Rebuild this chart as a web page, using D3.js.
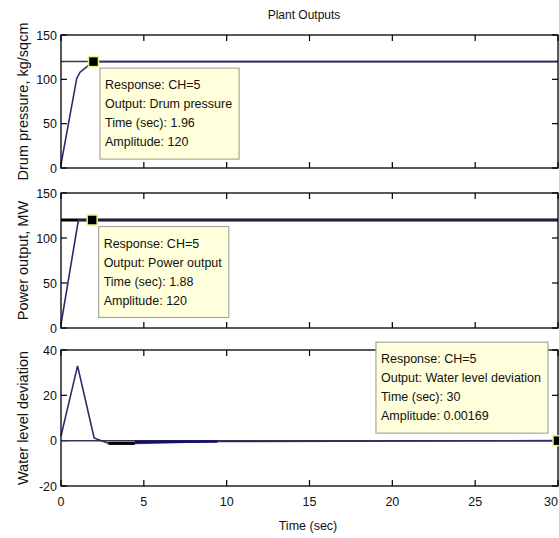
<!DOCTYPE html>
<html><head><meta charset="utf-8">
<script src="https://cdn.jsdelivr.net/npm/d3@7"></script>
<style>
html,body{margin:0;padding:0;background:#fff;}
svg{display:block;font-family:"Liberation Sans",Arial,sans-serif;}
</style></head>
<body>
<svg id="c" width="559" height="538"></svg>
<script>
// ---- data ----
const title = "Plant Outputs";
const xLabel = "Time (sec)";
const timeTicks = [0, 5, 10, 15, 20, 25, 30];
const yLabels = ["Drum pressure, kg/sqcm", "Power output, MW", "Water level deviation"];
const yDomains = [[0, 150], [0, 150], [-20, 40]];
const yTicks = [[0, 50, 100, 150], [0, 50, 100, 150], [-20, 0, 20, 40]];
const finalValues = [120, 120, 0];

const drumTime = [0, 0.95, 1.15, 1.55, 1.96, 30];
const drumValue = [4, 101, 108, 114, 120, 120];
const powerTime = [0, 1.05, 1.88, 30];
const powerValue = [4, 120, 120, 120];
const waterTime = [0, 1.0, 2.0, 2.2, 2.86, 4.45, 9.45, 30];
const waterValue = [2, 33, 1.2, 0.6, -1.1, -1.2, -0.4, 0.00169];
const waterDarkSegTime = [2.86, 4.45];
const waterDarkSegValue = [-1.2, -1.2];
const waterBlueSegTime = [4.45, 9.45];
const waterBlueSegValue = [-0.5, -0.4];

const tipTime = [1.96, 1.88, 30];
const tipAmp = [120, 120, 0.00169];
const tipOutput = ["Drum pressure", "Power output", "Water level deviation"];
const tipAmpText = ["120", "120", "0.00169"];
const tipResponse = "Response: CH=5";

// ---- layout ----
const svg = d3.select("#c");
const x0 = 61, x1 = 558;
const panels = [[35, 168], [193, 328], [350, 486]];
const x = d3.scaleLinear().domain([0, 30]).range([x0, x1]);
const lineCol = "#2e2a6a";

svg.append("text").attr("x", 304).attr("y", 19).attr("text-anchor", "middle")
  .attr("font-size", 12).attr("fill", "#111").text(title);

const series = [
  drumTime.map((t, i) => [t, drumValue[i]]),
  powerTime.map((t, i) => [t, powerValue[i]]),
  waterTime.map((t, i) => [t, waterValue[i]])
];

panels.forEach((p, k) => {
  const y = d3.scaleLinear().domain(yDomains[k]).range([p[1], p[0]]);
  const g = svg.append("g");
  g.append("rect").attr("x", x0).attr("y", p[0]).attr("width", x1 - x0).attr("height", p[1] - p[0])
    .attr("fill", "#fff").attr("stroke", "none");
  const tl = 6;
  timeTicks.forEach(t => {
    g.append("line").attr("x1", x(t)).attr("x2", x(t)).attr("y1", p[1]).attr("y2", p[1] - tl).attr("stroke", "#000").attr("stroke-width", 1.2);
    g.append("line").attr("x1", x(t)).attr("x2", x(t)).attr("y1", p[0]).attr("y2", p[0] + tl).attr("stroke", "#000").attr("stroke-width", 1.2);
  });
  yTicks[k].forEach(v => {
    g.append("line").attr("x1", x0).attr("x2", x0 + tl).attr("y1", y(v)).attr("y2", y(v)).attr("stroke", "#000").attr("stroke-width", 1.2);
    g.append("line").attr("x1", x1).attr("x2", x1 - tl).attr("y1", y(v)).attr("y2", y(v)).attr("stroke", "#000").attr("stroke-width", 1.2);
    g.append("text").attr("x", x0 - 4).attr("y", y(v) + 4.5).attr("text-anchor", "end")
      .attr("font-size", 12.5).attr("fill", "#111").text(v);
  });
  g.append("text").attr("transform", `translate(28,${(p[0] + p[1]) / 2}) rotate(-90)`)
    .attr("text-anchor", "middle").attr("font-size", 14.5).attr("fill", "#111").text(yLabels[k]);

  g.append("line").attr("x1", x0).attr("x2", x1).attr("y1", y(finalValues[k])).attr("y2", y(finalValues[k]))
    .attr("stroke", k === 1 ? "#000" : "#3a3650").attr("stroke-width", k === 1 ? 3 : 1.5);

  const ln = d3.line().x(d => x(d[0])).y(d => y(d[1]));
  g.append("path").attr("d", ln(series[k])).attr("fill", "none").attr("stroke", lineCol).attr("stroke-width", 1.6);
  if (k === 2) {
    g.append("path").attr("d", ln(waterDarkSegTime.map((t, i) => [t, waterDarkSegValue[i]])))
      .attr("fill", "none").attr("stroke", "#000").attr("stroke-width", 3);
    g.append("path").attr("d", ln(waterBlueSegTime.map((t, i) => [t, waterBlueSegValue[i]])))
      .attr("fill", "none").attr("stroke", "#101070").attr("stroke-width", 2.6);
  }

  g.append("rect").attr("x", x0).attr("y", p[0]).attr("width", x1 - x0).attr("height", p[1] - p[0])
    .attr("fill", "none").attr("stroke", "#000").attr("stroke-width", 1.3);

  const mx = x(tipTime[k]), my = y(tipAmp[k]);
  const lines = [tipResponse, "Output: " + tipOutput[k], "Time (sec): " + tipTime[k], "Amplitude: " + tipAmpText[k]];
  const tg = svg.append("g");
  const box = tg.append("rect").attr("fill", "#ffffdc").attr("stroke", "#a8a8a0").attr("stroke-width", 1.2);
  const texts = lines.map((s, i) => tg.append("text").attr("font-size", 12.5).attr("fill", "#111").text(s));
  const w = d3.max(texts, t => t.node().getComputedTextLength()) + 12;
  const h = 91;
  let bx, by;
  if (k < 2) { bx = mx + 6.5; by = my + 6.5; } else { bx = mx - 10 - w; by = my - 7.5 - h; }
  box.attr("x", bx).attr("y", by).attr("width", w).attr("height", h);
  texts.forEach((t, i) => t.attr("x", bx + 5).attr("y", by + 21 + i * 19));
  tg.append("rect").attr("x", mx - 5).attr("y", my - 5).attr("width", 10).attr("height", 10)
    .attr("fill", "#000").attr("stroke", "#f4f080").attr("stroke-width", 1.5);

  if (k === 2) {
    timeTicks.forEach((t, i) => {
      const last = i === timeTicks.length - 1;
      svg.append("text").attr("x", last ? x1 : x(t)).attr("y", p[1] + 20)
        .attr("text-anchor", last ? "end" : "middle")
        .attr("font-size", 12.5).attr("fill", "#111").text(t);
    });
    svg.append("text").attr("x", 308).attr("y", p[1] + 44).attr("text-anchor", "middle")
      .attr("font-size", 12.5).attr("fill", "#111").text(xLabel);
  }
});
</script>
</body></html>
